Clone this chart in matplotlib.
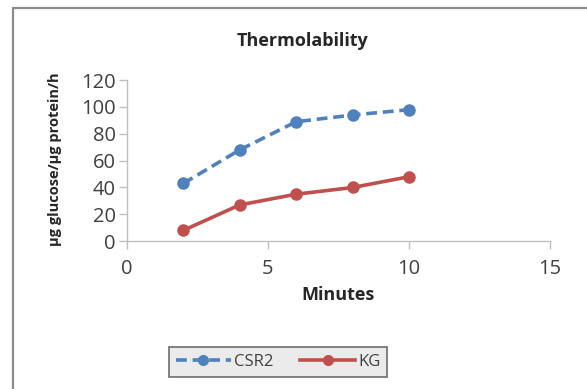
import matplotlib.pyplot as plt
from matplotlib.patches import Rectangle

minutes = [2, 4, 6, 8, 10]
csr2 = [43, 68, 89, 94, 98]
kg = [8, 27, 35, 40, 48]

plt.rcParams['font.family'] = ['Open Sans', 'DejaVu Sans']

fig = plt.figure(figsize=(5.87, 3.89), dpi=100)
fig.patches.append(Rectangle((13 / 587, -0.1), 1.2, 1 - 8 / 389 + 0.1,
                             transform=fig.transFigure, fill=False,
                             edgecolor='#8c8c8c', linewidth=1.6))

ax = fig.add_axes([0.216, 0.380, 0.721, 0.414])
ax.plot(minutes, csr2, color='#4F81BD', linestyle=(0, (3, 1.6)), linewidth=2.6,
        marker='o', markersize=8, label='CSR2')
ax.plot(minutes, kg, color='#C0504D', linewidth=2.6,
        marker='o', markersize=8, label='KG')

ax.set_xlim(0, 15)
ax.set_ylim(0, 120)
ax.set_xticks([0, 5, 10, 15])
ax.set_yticks(range(0, 121, 20))
for s in ['top', 'right']:
    ax.spines[s].set_visible(False)
for s in ['left', 'bottom']:
    ax.spines[s].set_color('#bfbfbf')
    ax.spines[s].set_linewidth(1.0)
ax.tick_params(colors='#bfbfbf', labelcolor='#404040', labelsize=14.5,
               length=6, width=1.0, pad=2)
ax.tick_params(axis='x', pad=7)

ax.set_xlabel('Minutes', fontsize=13, fontweight='bold', color='#262626', labelpad=5)
fig.text(0.093, 0.59, 'µg glucose/µg protein/h', rotation=90, ha='center', va='center',
         fontsize=10.5, fontweight='bold', color='#262626')
fig.text(0.516, 0.895, 'Thermolability', ha='center', va='center',
         fontsize=13, fontweight='bold', color='#262626')

leg = fig.legend(loc='center', bbox_to_anchor=(0.474, 0.069), ncol=2, frameon=True,
                 fancybox=False, fontsize=12, handlelength=3.3, columnspacing=1.6,
                 borderpad=0.4, handletextpad=0.2, handleheight=0.8)
leg.get_frame().set_facecolor('#e6e6e6')
leg.get_frame().set_edgecolor('#595959')
leg.get_frame().set_linewidth(1.3)
for h in leg.legend_handles:
    h.set_markersize(7)
for t in leg.get_texts():
    t.set_color('#404040')

fig.savefig('out.png', dpi=100)
